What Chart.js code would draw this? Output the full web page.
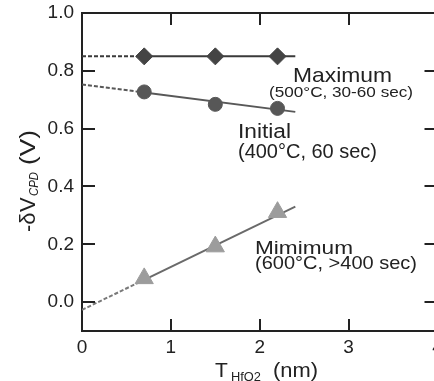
<!DOCTYPE html>
<html>
<head>
<meta charset="utf-8">
<title>CPD shift vs HfO2 thickness</title>
<script src="https://cdn.jsdelivr.net/npm/chart.js@4"></script>
<style>
  html, body { margin: 0; padding: 0; background: #fff; overflow: hidden; }
  .wrap { position: absolute; left: 0; top: 0; width: 449px; height: 381px; }
  canvas { display: block; width: 449px; height: 381px; }
</style>
</head>
<body>
<!-- the plot box runs a little past the right edge of the window, as in the figure -->
<div class="wrap"><canvas id="cpdChart" width="449" height="381"></canvas></div>
<script>
// measured points, x = HfO2 thickness (nm)
const thickness = [0.7, 1.5, 2.2];
const maxVals = [0.85, 0.85, 0.85];
const initVals = [0.727, 0.684, 0.670];
const minVals = [0.082, 0.192, 0.311];

// linear fits: 0 -> 0.7 is the extrapolated (dashed) part, 0.7 -> 2.4 the solid one
const fitX = [0, 0.7, 2.4];
const maxFit = [0.85, 0.85, 0.85];
const initFit = [0.753, 0.725, 0.658];
const minFit = [-0.027, 0.077, 0.330];

const xTicks = [0, 1, 2, 3, 4];
const yTicks = [0.0, 0.2, 0.4, 0.6, 0.8, 1.0];

const FONT = '"Liberation Sans", Arial, sans-serif';
const INK = '#222';

function pts(xs, ys) {
    return xs.map((x, i) => ({ x, y: ys[i] }));
}

function fitLine(ys, color, dashed) {
    const xs = dashed ? fitX.slice(0, 2) : fitX.slice(1);
    return {
        data: pts(xs, dashed ? ys.slice(0, 2) : ys.slice(1)),
        showLine: true,
        borderColor: color,
        borderWidth: 2,
        borderDash: dashed ? [4, 2] : [],
        pointRadius: 0,
        order: 2
    };
}

function markers(ys, style, radius, color) {
    return {
        data: pts(thickness, ys),
        showLine: false,
        pointStyle: style,
        pointRadius: radius,
        pointBackgroundColor: color,
        pointBorderColor: color,
        pointBorderWidth: 1,
        order: 1
    };
}

// keep the plot box where the figure has it, labels may hang over the edges
function noPad(s) {
    s.paddingTop = 0;
    s.paddingBottom = 0;
    s.paddingLeft = 0;
    s.paddingRight = 0;
}

// text squeezed/stretched to the width it has in the figure
function drawFit(ctx, text, x, y, size, width, italic) {
    ctx.save();
    ctx.font = (italic ? 'italic ' : '') + size + 'px ' + FONT;
    const sx = width ? width / ctx.measureText(text).width : 1;
    ctx.translate(x, y);
    ctx.scale(sx, 1);
    ctx.fillText(text, 0, 0);
    ctx.restore();
}

const framePlugin = {
    id: 'frame',
    afterDraw(chart) {
        const { ctx, chartArea: a, scales: { x, y } } = chart;
        ctx.save();
        ctx.strokeStyle = INK;
        ctx.lineWidth = 2;
        ctx.beginPath();
        ctx.moveTo(a.left - 1, a.top);
        ctx.lineTo(a.right, a.top);
        ctx.lineTo(a.right, a.bottom);
        // inward ticks on all four sides
        yTicks.slice(0, -1).forEach(v => {
            const py = Math.round(y.getPixelForValue(v));
            ctx.moveTo(a.left, py); ctx.lineTo(a.left + 13, py);
            ctx.moveTo(a.right, py); ctx.lineTo(a.right - 13, py);
        });
        xTicks.slice(1, -1).forEach(v => {
            const px = Math.round(x.getPixelForValue(v));
            ctx.moveTo(px, a.bottom); ctx.lineTo(px, a.bottom - 12);
            ctx.moveTo(px, a.top); ctx.lineTo(px, a.top + 12);
        });
        ctx.stroke();

        ctx.fillStyle = INK;
        ctx.textBaseline = 'alphabetic';
        ctx.textAlign = 'left';
        drawFit(ctx, 'Maximum', 293, 82, 21, 99);
        drawFit(ctx, '(500°C, 30-60 sec)', 269, 96.5, 15.5, 144);
        drawFit(ctx, 'Initial', 238, 138, 20, 53);
        drawFit(ctx, '(400°C, 60 sec)', 238, 158, 20, 139);
        drawFit(ctx, 'Mimimum', 255, 254, 19, 98);
        drawFit(ctx, '(600°C, >400 sec)', 255, 269, 18.5, 162);

        // x title: T_HfO2 (nm)
        drawFit(ctx, 'T', 215, 376.5, 21);
        drawFit(ctx, 'HfO2', 231, 380.5, 13, 30);
        drawFit(ctx, '(nm)', 273, 376.5, 21, 45);

        // y title: -δV_CPD (V), rotated
        ctx.translate(35, 232);
        ctx.rotate(-Math.PI / 2);
        drawFit(ctx, '-δ', 0, 0, 22);
        drawFit(ctx, 'V', 20, 0, 22);
        drawFit(ctx, 'CPD', 36, 3, 12, 24, true);
        drawFit(ctx, '(V)', 67, 0, 22, 35);
        ctx.restore();
    }
};

new Chart(document.getElementById('cpdChart'), {
    type: 'scatter',
    data: {
        datasets: [
            markers(maxVals, 'rectRot', 8.5, '#444'),
            markers(initVals, 'circle', 7, '#575757'),
            markers(minVals, 'triangle', 10.5, '#9c9c9c'),
            fitLine(maxFit, '#3a3a3a', true),
            fitLine(maxFit, '#3a3a3a', false),
            fitLine(initFit, '#585858', true),
            fitLine(initFit, '#585858', false),
            fitLine(minFit, '#7a7a7a', true),
            fitLine(minFit, '#6a6a6a', false)
        ]
    },
    options: {
        responsive: false,
        animation: false,
        layout: { padding: { top: 13, right: 5, left: 0, bottom: 0 } },
        plugins: { legend: { display: false }, tooltip: { enabled: false } },
        scales: {
            x: {
                type: 'linear',
                min: 0,
                max: 4,
                afterFit: s => { s.height = 50; noPad(s); },
                afterBuildTicks: s => { s.ticks = xTicks.map(v => ({ value: v })); },
                grid: { display: false, drawTicks: false },
                border: { display: true, color: INK, width: 2 },
                ticks: {
                    autoSkip: false,
                    maxRotation: 0,
                    padding: 5,
                    color: INK,
                    font: { family: FONT, size: 19 },
                    callback: v => String(v)
                }
            },
            y: {
                type: 'linear',
                min: -0.1,
                max: 1.0,
                afterFit: s => { s.width = 82; noPad(s); },
                afterBuildTicks: s => { s.ticks = yTicks.map(v => ({ value: v })); },
                grid: { display: false, drawTicks: false },
                border: { display: true, color: INK, width: 2 },
                ticks: {
                    autoSkip: false,
                    padding: 8,
                    color: INK,
                    font: { family: FONT, size: 19 },
                    callback: v => v.toFixed(1)
                }
            }
        }
    },
    plugins: [framePlugin]
});
</script>
</body>
</html>
